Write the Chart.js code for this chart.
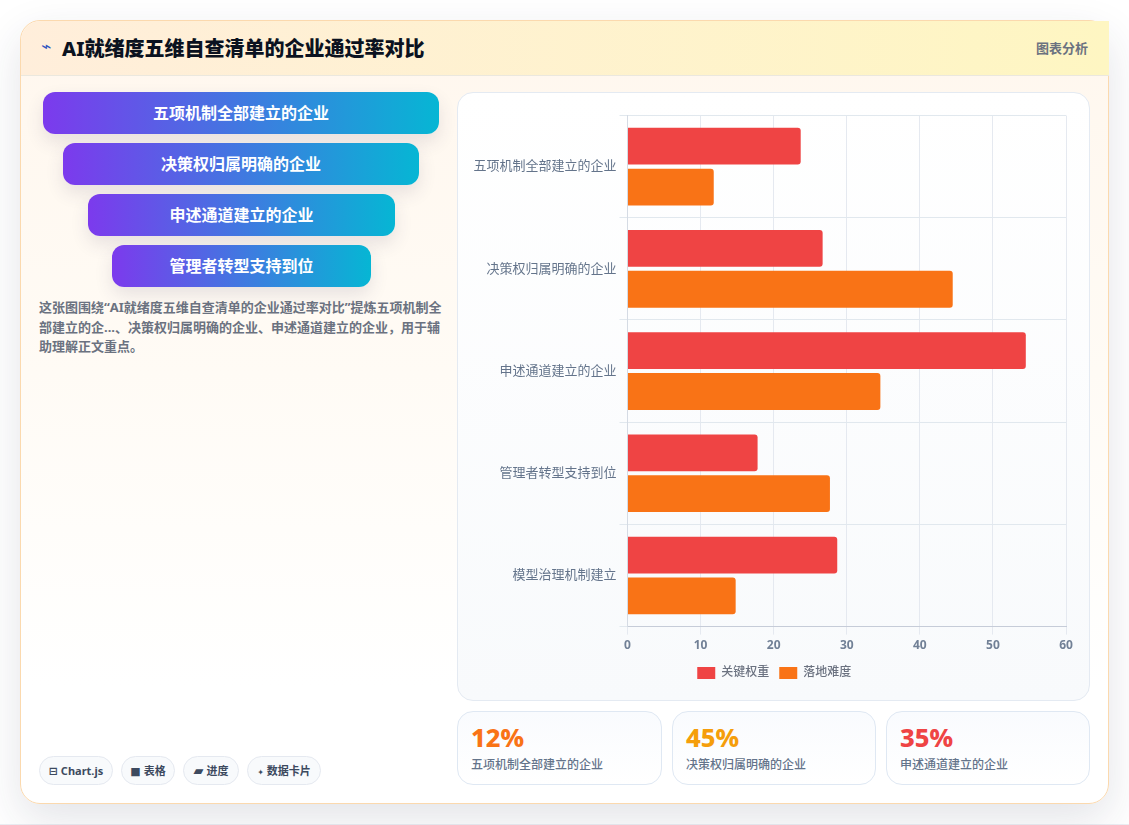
<!DOCTYPE html>
<html lang="zh">
<head>
<meta charset="utf-8">
<script src="https://cdn.jsdelivr.net/npm/chart.js@4"></script>
<style>
*{box-sizing:border-box;margin:0;padding:0}
html,body{width:1129px;height:825px;overflow:hidden;background:#fff;font-family:"Noto Sans","Noto Sans CJK SC",sans-serif}
.foot{position:absolute;left:0;right:0;top:824px;height:1px;background:#eceef3}
.card{position:absolute;left:20px;top:20px;width:1089px;height:784px;border:1px solid #fbd9ae;border-radius:20px;background:linear-gradient(180deg,#fff7ee 0%,#fffbf5 45%,#fff 85%);box-shadow:0 16px 44px rgba(40,50,80,.13)}
.head{position:absolute;left:0;top:0;width:1088px;height:55px;background:linear-gradient(90deg,#ffeedb,#fef6c2);border-bottom:1px solid #ebe8de;border-radius:20px 0 0 0}
.head .ic{position:absolute;left:20px;top:15px;font-size:17px;color:#2f55c0;font-family:"DejaVu Sans"}
.head h1{position:absolute;left:41px;top:15px;font-size:20px;line-height:26px;font-weight:800;color:#0b1220;white-space:nowrap}
.head .tag{position:absolute;right:21px;top:18px;font-size:13px;line-height:18px;font-weight:700;color:#6b7280}
.pill{position:absolute;height:42px;line-height:42px;border-radius:12px;text-align:center;color:#fff;font-size:16px;font-weight:700;background:linear-gradient(90deg,#7c3aed,#06b6d4);box-shadow:0 8px 18px rgba(60,50,90,.12)}
.note{position:absolute;left:18px;top:277px;width:408px;font-size:13px;line-height:19.5px;font-weight:700;color:#6b7280}
.chip{position:absolute;top:735px;height:29px;line-height:27px;border:1px solid #e5e9f0;border-radius:15px;background:#f8fafc;font-size:11px;font-weight:700;color:#3d4a5f;text-align:center;white-space:nowrap}
.chip i{font-style:normal;font-size:11px;font-family:"DejaVu Sans"}
.chip:nth-child(3) i{font-size:13px}
.chip:nth-child(4) i{font-size:8px}
.panel{position:absolute;left:436px;top:71px;width:633px;height:609px;border:1px solid #e4eaf2;border-radius:16px;background:linear-gradient(180deg,#fff,#f8fafc)}
.panel canvas{position:absolute;left:0;top:0}
.stat{position:absolute;top:690px;height:74px;border:1px solid #dfe8f3;border-radius:16px;background:linear-gradient(180deg,#f9fbfe,#fff)}
.stat b{position:absolute;left:13px;top:8px;font-size:25.5px;line-height:34px;font-weight:800}
.stat span{position:absolute;left:13px;top:44px;font-size:12px;line-height:18px;font-weight:500;color:#64748b;white-space:nowrap}
</style>
</head>
<body>
<div class="foot"></div>
<div class="card">
  <div class="head">
    <span class="ic">⌁</span>
    <h1>AI就绪度五维自查清单的企业通过率对比</h1>
    <span class="tag">图表分析</span>
  </div>
  <div id="pills"></div>
  <p class="note">这张图围绕“AI就绪度五维自查清单的企业通过率对比”提炼五项机制全部建立的企...、决策权归属明确的企业、申述通道建立的企业，用于辅助理解正文重点。</p>
  <div id="chips"></div>
  <div class="panel"><canvas id="chart" width="631" height="607"></canvas></div>
  <div id="stats"></div>
</div>
<script>
// Chart content
const categories = ['五项机制全部建立的企业','决策权归属明确的企业','申述通道建立的企业','管理者转型支持到位','模型治理机制建立'];
const keyWeight = [23.7, 26.7, 54.5, 17.8, 28.7];
const difficulty = [11.8, 44.5, 34.6, 27.7, 14.8];
const seriesNames = ['关键权重','落地难度'];
const xTicks = [0,10,20,30,40,50,60];

// Side panel content
const pillLabels = ['五项机制全部建立的企业','决策权归属明确的企业','申述通道建立的企业','管理者转型支持到位'];
const pillBoxes = [[22,396],[42,356],[67,307],[91,259]];
const chipIcons = ['⊟','■','▰','✦'];
const chipLabels = ['Chart.js','表格','进度','数据卡片'];
const chipBoxes = [[18,74],[100,54],[162,56],[226,74]];
const statValues = ['12%','45%','35%'];
const statLabels = ['五项机制全部建立的企业','决策权归属明确的企业','申述通道建立的企业'];
const statColors = ['#f97316','#f59e0b','#ef4444'];
const statBoxes = [[436,205],[651,204],[865,204]];

const place = (host, html) => document.getElementById(host).insertAdjacentHTML('beforeend', html);
pillLabels.forEach((t,i)=>place('pills',`<div class="pill" style="left:${pillBoxes[i][0]}px;top:${71+51*i}px;width:${pillBoxes[i][1]}px">${t}</div>`));
chipLabels.forEach((t,i)=>place('chips',`<div class="chip" style="left:${chipBoxes[i][0]}px;width:${chipBoxes[i][1]}px"><i>${chipIcons[i]}</i> ${t}</div>`));
statValues.forEach((v,i)=>place('stats',`<div class="stat" style="left:${statBoxes[i][0]}px;width:${statBoxes[i][1]}px"><b style="color:${statColors[i]}">${v}</b><span>${statLabels[i]}</span></div>`));

// Nudges the legend so it sits centred under the plot rather than the canvas
const legendShift = {
  id: 'legendShift',
  afterLayout(chart) { chart.legend.left += 6; chart.legend.right += 6; }
};

const font = '"Noto Sans","Noto Sans CJK SC",sans-serif';
new Chart(document.getElementById('chart'), {
  type: 'bar',
  plugins: [legendShift],
  data: {
    labels: categories,
    datasets: [
      {label: seriesNames[0], data: keyWeight, backgroundColor: '#ef4444', borderRadius: 3},
      {label: seriesNames[1], data: difficulty, backgroundColor: '#f97316', borderRadius: 3}
    ]
  },
  options: {
    indexAxis: 'y',
    responsive: false,
    animation: false,
    layout: {padding: {left: 12.5, right: 23, top: 22.5, bottom: 11}},
    scales: {
      x: {
        min: 0, max: 60,
        afterBuildTicks: a => { a.ticks = xTicks.map(value => ({value})); },
        grid: {color: '#e5e9f0'},
        border: {color: '#c6ccd8'},
        ticks: {color: '#718096', font: {family: font, size: 12, weight: '700'}, padding: 4}
      },
      y: {
        grid: {color: '#e1e8ee'},
        border: {color: '#d5dbe4'},
        ticks: {color: '#64748b', font: {family: font, size: 13}, padding: 3}
      }
    },
    plugins: {
      legend: {
        position: 'bottom',
        labels: {boxWidth: 18, boxHeight: 12, padding: 10, color: '#6b7280', font: {family: font, size: 12, weight: '500'}}
      },
      tooltip: {enabled: false}
    }
  }
});
</script>
</body>
</html>
